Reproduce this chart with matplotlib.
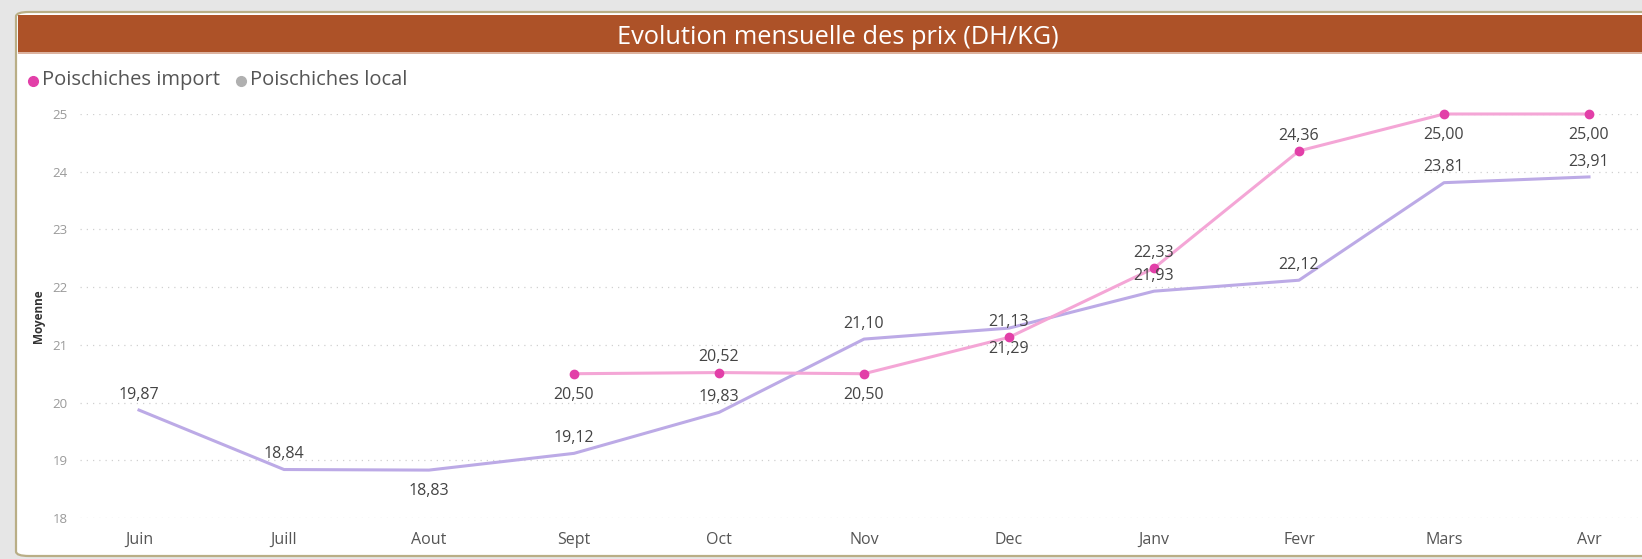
import matplotlib
matplotlib.use("Agg")
import matplotlib.pyplot as plt
from matplotlib.patches import FancyBboxPatch, Rectangle
from matplotlib.lines import Line2D
import numpy as np

plt.rcParams['font.family'] = ['Open Sans', 'DejaVu Sans']

months = ["Juin", "Juill", "Aout", "Sept", "Oct", "Nov", "Dec", "Janv", "Fevr", "Mars", "Avr"]
local_vals = [19.87, 18.84, 18.83, 19.12, 19.83, 21.10, 21.29, 21.93, 22.12, 23.81, 23.91]
import_vals = [None, None, None, 20.50, 20.52, 20.50, 21.13, 22.33, 24.36, 25.00, 25.00]
# label placement: 1 = above, -1 = below
local_pos = [1, 1, -1, 1, 1, 1, -1, 1, 1, 1, 1]
import_pos = [0, 0, 0, -1, 1, -1, 1, 1, 1, -1, -1]
yticks = [18, 19, 20, 21, 22, 23, 24, 25]
title = "Evolution mensuelle des prix (DH/KG)"
series_names = ["Poischiches import", "Poischiches local"]

W, H = 1642, 559
fig = plt.figure(figsize=(W / 100, H / 100), dpi=100)
fig.patch.set_facecolor("#e6e6e6")

def fx(px):
    return px / W

def fy(py):
    return 1 - py / H

# card
card = FancyBboxPatch((fx(16), fy(556)), fx(1700), (556 - 12) / H,
                      boxstyle="round,pad=0,rounding_size=0.008",
                      transform=fig.transFigure, facecolor="white",
                      edgecolor="#b9ae86", linewidth=1.6, zorder=-3)
fig.patches.append(card)
# title bar
fig.patches.append(Rectangle((fx(18), fy(52)), fx(1650), (52 - 15) / H,
                             transform=fig.transFigure, facecolor="#ad5228",
                             edgecolor="none", zorder=-2))
fig.patches.append(Rectangle((fx(18), fy(53.5)), fx(1650), 1.5 / H,
                             transform=fig.transFigure, facecolor="#dcb3a0",
                             edgecolor="none", zorder=-2))
fig.text(fx(838), fy(38), title, color="white", fontsize=18.3,
         ha="center", va="center", zorder=2)

# legend
imp_color_line = "#f4a6d6"
imp_color_mark = "#e23fa8"
loc_color_line = "#bcaae6"
fig.lines.append(Line2D([fx(33)], [fy(81)], transform=fig.transFigure, marker="o",
                        markersize=7, color=imp_color_mark, linestyle="none"))
fig.text(fx(42), fy(80), series_names[0], fontsize=14.5, color="#555555", va="center", ha="left")
fig.lines.append(Line2D([fx(241)], [fy(81)], transform=fig.transFigure, marker="o",
                        markersize=7, color="#b0b0b0", linestyle="none"))
fig.text(fx(250), fy(80), series_names[1], fontsize=14.5, color="#555555", va="center", ha="left")

# axes
ax_left, ax_right, ax_top, ax_bot = 80, 1642, 114, 518
ax = fig.add_axes([fx(ax_left), fy(ax_bot), fx(ax_right - ax_left), (ax_bot - ax_top) / H])
ax.set_facecolor("none")
x = np.arange(len(months))
x0, x1 = 139, 1589
step = (x1 - x0) / (len(months) - 1)
ax.set_xlim(-(x0 - ax_left) / step, len(months) - 1 + (ax_right - x1) / step)
ax.set_ylim(18, 25)

for s in ax.spines.values():
    s.set_visible(False)
ax.set_yticks(yticks)
ax.set_yticklabels([str(t) for t in yticks])
ax.tick_params(axis="y", length=0, pad=9, labelsize=9.5, labelcolor="#9a9a9a")
ax.set_xticks(x)
ax.set_xticklabels(months)
ax.tick_params(axis="x", length=0, pad=10, labelsize=11.5, labelcolor="#555555")
ax.grid(axis="y", color="#d0d0d0", linestyle=(0, (1, 4)), linewidth=0.9)
ax.set_axisbelow(True)
ax.set_ylabel("Moyenne", fontsize=8.5, fontweight="bold", color="#333333", labelpad=5)

ax.plot(x, local_vals, color=loc_color_line, linewidth=2.2, zorder=3, clip_on=False)
ix = [i for i, v in enumerate(import_vals) if v is not None]
iv = [import_vals[i] for i in ix]
ax.plot(ix, iv, color=imp_color_line, linewidth=2.2, zorder=4, clip_on=False)
ax.plot(ix, iv, linestyle="none", marker="o", markersize=6, color=imp_color_mark,
        zorder=5, clip_on=False)

def lab(v, xi, pos):
    off = 11 if pos > 0 else -15
    ax.annotate(f"{v:.2f}".replace(".", ","), (xi, v), xytext=(0, off),
                textcoords="offset points", ha="center", va="center",
                fontsize=11.5, color="#444444", zorder=6)

for i, v in enumerate(local_vals):
    lab(v, i, local_pos[i])
for i in ix:
    lab(import_vals[i], i, import_pos[i])

fig.savefig("out.png", dpi=100, facecolor=fig.get_facecolor())
